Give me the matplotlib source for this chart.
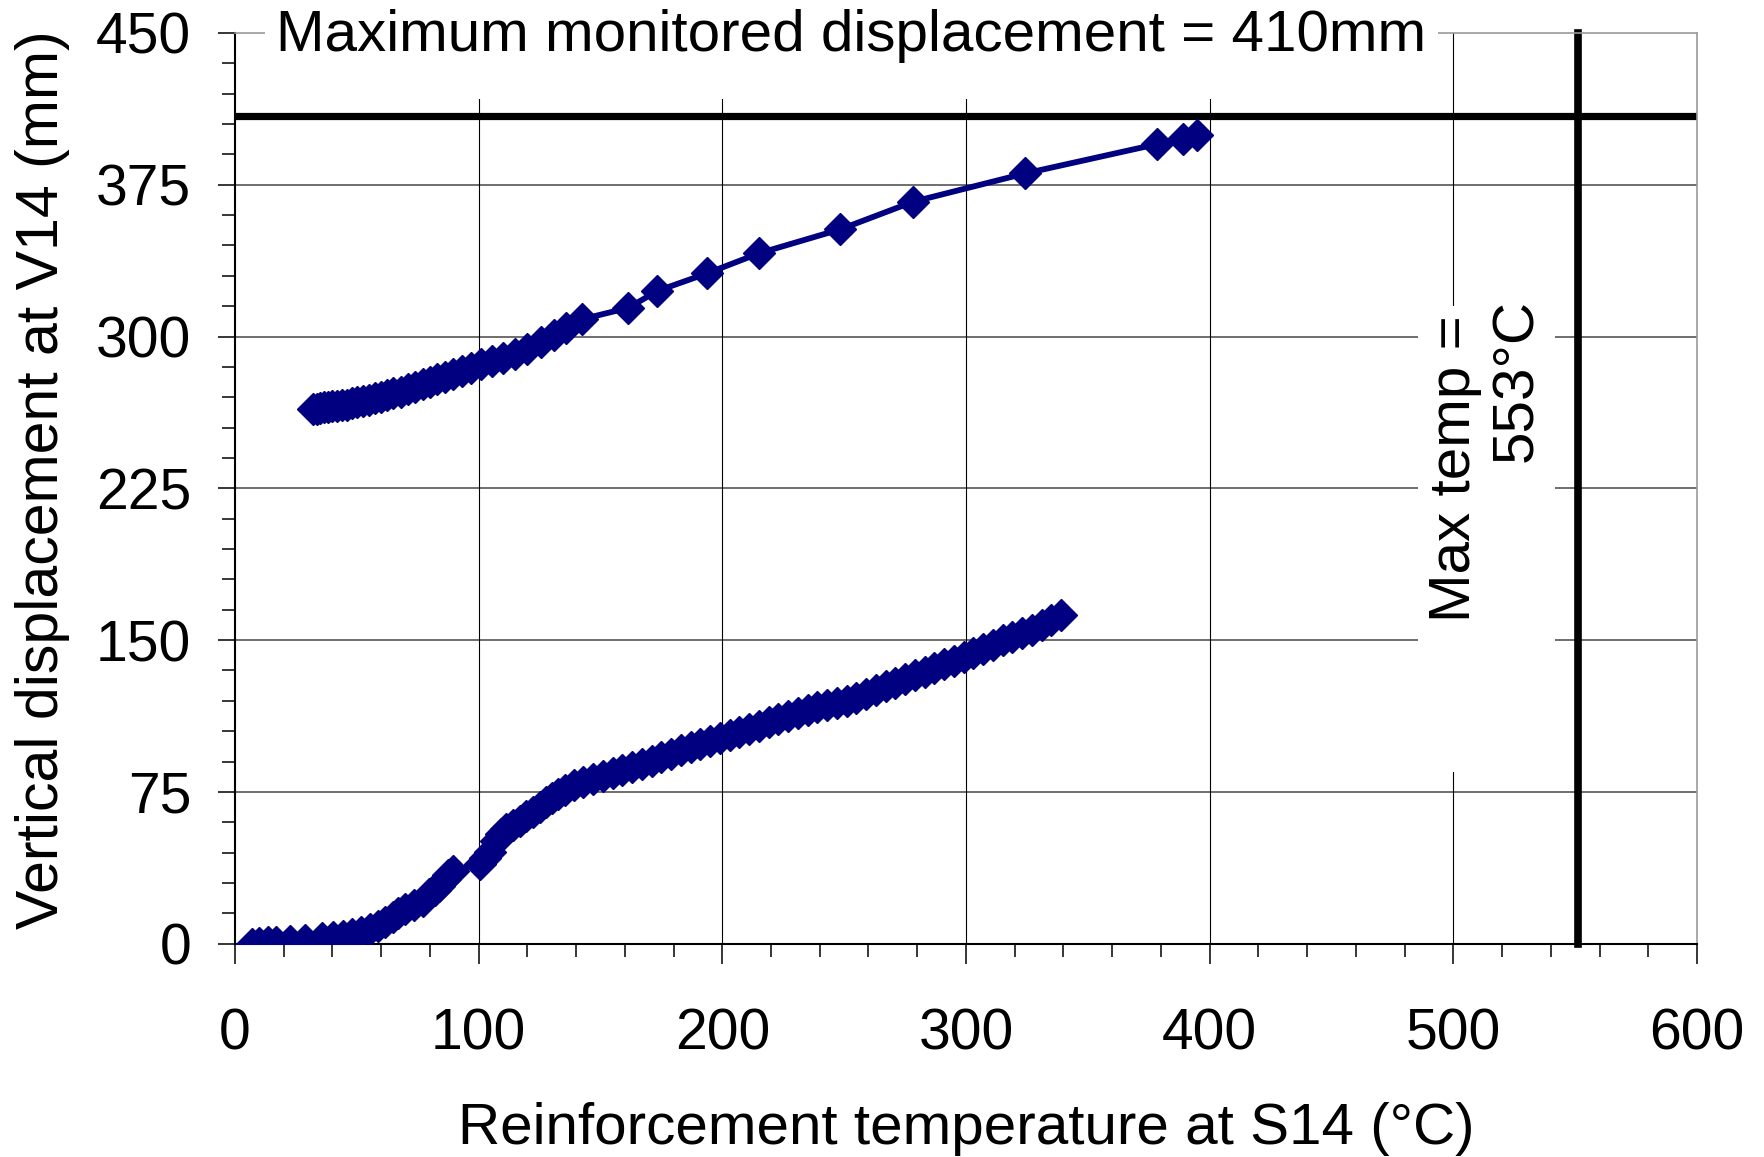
import matplotlib
matplotlib.use("Agg")
import matplotlib.pyplot as plt
from matplotlib.patches import Rectangle
from matplotlib.ticker import MultipleLocator

plt.rcParams['font.family'] = ['Liberation Sans', 'DejaVu Sans']

# ---- data ----
heat_temp = [6.8, 10, 13.7, 17, 22.6, 28.7, 35.6, 40.3, 44.4, 48.2, 51.7, 55.6, 58.5,
             61.4, 64.8, 67, 69.6, 73.5, 77.1, 79.8, 82, 83.9, 86, 87.5, 89.4,
             100.5, 102.5, 104.6, 107.3, 109.3, 111.4, 114, 116.9, 119.5, 122.3, 125,
             127.8, 130, 132.6, 135.5, 139, 143, 147, 151, 155, 159, 163, 167, 171,
             175, 179, 183, 187, 191, 195, 199, 203, 207, 211, 215, 219, 223, 227,
             231, 235, 239, 243, 247, 251, 255, 259, 263, 267, 271, 275, 279, 283,
             287, 291, 295, 299, 303, 307, 311, 315, 319, 323, 327, 331, 335, 338.8]
heat_disp = [0, 0.3, 0.6, 1.0, 1.3, 2.0, 2.7, 3.1, 3.6, 4.8, 5.6, 7.3, 8.8,
             10.6, 13, 15, 17.1, 19, 21.3, 24.6, 26.5, 28.7, 32, 34, 36.1,
             39.5, 42.5, 45.2, 50.9, 54, 56.7, 58.8, 60.8, 63, 64.9, 67.5,
             69.8, 72, 74, 76, 78.3, 80, 81.5, 83, 84.5, 85.8, 87.3, 88.8, 90.3,
             92, 93.7, 95.5, 97, 98.5, 100, 101.5, 103, 104.5, 106, 107.7, 109.3, 111, 112.5,
             114, 115.5, 116.8, 118, 119, 120, 121.5, 123.5, 125.3, 127.2, 129, 130.8, 132.6, 134.4,
             136.2, 138, 139.8, 141.8, 143.8, 145.8, 147.8, 149.8, 151.6, 153.3, 155.2, 157.3, 159.8, 162.4]

late_temp = [32, 33.5, 35, 36.5, 38, 40, 42, 44, 46, 48, 50, 52.5, 55, 57.5, 60, 62.5,
             65, 68, 71, 74, 77, 80, 83, 86, 89.5, 93, 97, 101, 105.5, 110, 115, 120,
             125.5, 131, 136, 142.3, 161.5, 173.3, 193.7, 215, 248.5, 278.3, 324.3,
             378.5, 389, 395]
late_disp = [264, 264.3, 264.6, 265, 265.2, 265.5, 265.8, 266.1, 266.4, 267, 267.5, 268.1,
             268.7, 269.4, 270.1, 271, 271.9, 272.8, 274, 275.2, 276.3, 277.5, 278.8, 280.1,
             281.6, 283, 284.5, 286.2, 287.8, 289.3, 291.3, 294, 297.5, 301, 304, 308.5,
             314.2, 322.5, 331.2, 341.1, 353, 366.6, 380.6, 395.1, 397.4, 399.5]

max_disp_line = 409
max_temp_line = 551

x_ticks = [0, 100, 200, 300, 400, 500, 600]
y_ticks = [0, 75, 150, 225, 300, 375, 450]

title_text = "Maximum monitored displacement = 410mm"
maxtemp_text = "Max temp = \n553°C"
xlabel = "Reinforcement temperature at S14 (°C)"
ylabel = "Vertical displacement at V14 (mm)"

# ---- figure ----
fig = plt.figure(figsize=(17.64, 11.57), dpi=100)
ax = fig.add_axes([0.1332, 0.1844, 0.9620 - 0.1332, 0.9715 - 0.1844])

navy = '#000080'
FS = 42
TFS = 41

ax.set_xlim(0, 600)
ax.set_ylim(0, 450)
ax.set_xticks(x_ticks)
ax.set_yticks(y_ticks)
ax.xaxis.set_minor_locator(MultipleLocator(20))
ax.yaxis.set_minor_locator(MultipleLocator(15))

ax.tick_params(axis='both', which='major', labelsize=TFS, direction='out', width=1.1, color='black')
ax.tick_params(axis='x', which='major', length=14.5, pad=31.5)
ax.tick_params(axis='y', which='major', length=12.5, pad=19)
ax.tick_params(axis='x', which='minor', length=9.5, width=1.1, direction='out')
ax.tick_params(axis='y', which='minor', length=9.5, width=1.1, direction='out')

# gridlines
for yv in y_ticks[1:-1]:
    ax.axhline(yv, color='#555555', lw=1.2, zorder=1)
for xv in x_ticks[1:-1]:
    ax.axvline(xv, color='black', lw=0.8, zorder=1)

for s in ['left', 'bottom']:
    ax.spines[s].set_linewidth(1.5)
    ax.spines[s].set_color('black')
for s in ['top', 'right']:
    ax.spines[s].set_linewidth(1.2)
    ax.spines[s].set_color('#999999')

# reference lines
ax.axhline(max_disp_line, color='black', lw=5.2, zorder=2)
ax.axvline(max_temp_line, color='black', lw=5.5, zorder=2, clip_on=False)

# data
ax.plot(heat_temp, heat_disp, color=navy, lw=4.2, marker='D', ms=16,
        mfc=navy, mec=navy, mew=1, zorder=4)
ax.plot(late_temp, late_disp, color=navy, lw=4.2, marker='D', ms=16,
        mfc=navy, mec=navy, mew=1, zorder=4)

# title box (covers gridlines)
ax.add_patch(Rectangle((12.3, 417.3), 493.6 - 12.3, 50, facecolor='white',
                       edgecolor='none', zorder=6, clip_on=False))
ax.text(252.8, 448.5, title_text, fontsize=FS, ha='center', va='center',
        zorder=7, clip_on=False)

# max temp box
ax.add_patch(Rectangle((485.4, 84.8), 541.7 - 485.4, 315 - 84.8, facecolor='white',
                       edgecolor='none', zorder=3))
ax.text(513.4, 238.5, maxtemp_text, fontsize=FS, rotation=90, ha='center', va='center',
        multialignment='right', linespacing=1.2, zorder=5)

ax.set_xlabel(xlabel, fontsize=FS)
ax.set_ylabel(ylabel, fontsize=42.5)
ax.xaxis.set_label_coords(0.5, -0.1734)
ax.yaxis.set_label_coords(-0.113, 0.51)

fig.savefig("out.png", dpi=100, facecolor='white')
